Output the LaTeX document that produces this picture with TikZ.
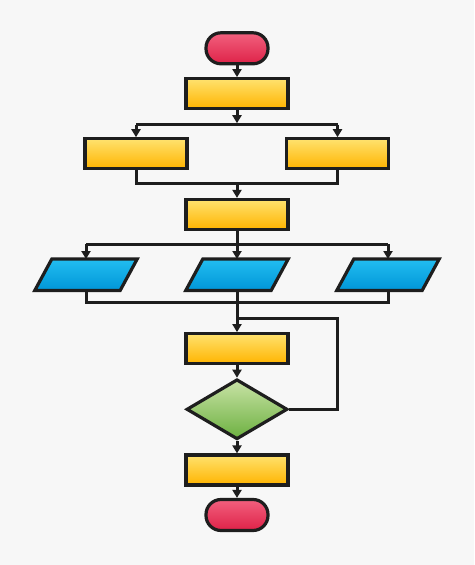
\documentclass[tikz,border=0pt]{standalone}
\usetikzlibrary{shapes.geometric,arrows.meta,calc}
\definecolor{bg}{HTML}{F7F7F7}
\definecolor{ytop}{HTML}{FFE26E}
\definecolor{ybot}{HTML}{FFB400}
\definecolor{rtop}{HTML}{F2607E}
\definecolor{rbot}{HTML}{DE2248}
\definecolor{btop}{HTML}{22BDF0}
\definecolor{bbot}{HTML}{0096D8}
\definecolor{gtop}{HTML}{C9E3A6}
\definecolor{gbot}{HTML}{6CB040}
\definecolor{ink}{HTML}{1E1E1E}
\tikzset{
  x=1pt,y=-1pt,
  procbox/.style={rectangle,draw=ink,line width=3.2pt,minimum width=102pt,minimum height=30pt,inner sep=0pt,top color=ytop,bottom color=ybot},
  termbox/.style={rectangle,rounded corners=15pt,draw=ink,line width=3.2pt,minimum width=62pt,minimum height=31pt,inner sep=0pt,top color=rtop,bottom color=rbot},
  iobox/.style={rectangle,minimum width=102pt,minimum height=31pt,inner sep=0pt},
  ioshape/.style={draw=ink,line width=3.2pt,line join=miter,top color=btop,bottom color=bbot},
  decbox/.style={diamond,draw=ink,line width=3.2pt,minimum width=101pt,minimum height=60pt,inner sep=0pt,top color=gtop,bottom color=gbot},
  conn/.style={draw=ink,line width=3pt},
  arr/.style={conn,-{Triangle[length=8pt,width=9pt]}}
}
\begin{document}
\begin{tikzpicture}
\fill[bg] (0,0) rectangle (474,565);
\useasboundingbox (0,0) rectangle (474,565);

\node[termbox] (start) at (237,48.3) {};
\node[procbox] (r1) at (237,93.7) {};
\node[procbox] (rl) at (136,153.8) {};
\node[procbox] (rr) at (337.5,153.8) {};
\node[procbox] (r3) at (237,214.5) {};
\node[iobox] (p1) at (86,274.7) {};
\node[iobox] (p2) at (237,274.7) {};
\node[iobox] (p3) at (388,274.7) {};
\foreach \p in {p1,p2,p3}{
  \shade[ioshape] (\p.south west) -- ($(\p.south east)+(-17,0)$) -- (\p.north east) -- ($(\p.north west)+(17,0)$) -- cycle;
}
\node[procbox] (r4) at (237,348.7) {};
\node[decbox] (dec) at (237,409.3) {};
\node[procbox] (r5) at (237,470) {};
\node[termbox] (stop) at (237,515) {};

\coordinate (s1) at (237,124.7);
\coordinate (j1) at (237,183.3);
\coordinate (s2) at (237,244);
\coordinate (j2) at (237,302.7);
\coordinate (lp) at (237,318.3);
\coordinate (lc) at (337.7,409.3);

\draw[arr] (start) -- (r1);
\draw[arr] (r1) -- ($(s1)+(0,-1.5)$);
\draw[conn] (rl.center |- s1) -- (rr.center |- s1);
\draw[arr] (s1 -| rl.center) -- (rl.north);
\draw[arr] (s1 -| rr.center) -- (rr.north);
\draw[conn] (rl.south) |- (j1) -| (rr.south);
\draw[arr] (j1) -- (r3.north);
\draw[conn] (r3.south) -- (s2);
\draw[conn] (p1.center |- s2) -- (p3.center |- s2);
\draw[arr] (s2 -| p1.center) -- (p1.north);
\draw[arr] (s2) -- (p2.north);
\draw[arr] (s2 -| p3.center) -- (p3.north);
\draw[conn] (p1.south) |- (j2) -| (p3.south);
\draw[arr] (p2.south) -- (r4.north);
\draw[conn] (dec.east) -- (lc) |- (lp);
\draw[arr] (r4) -- (dec);
\draw[arr] (dec) -- (r5);
\draw[arr] (r5) -- (stop);
\end{tikzpicture}
\end{document}
